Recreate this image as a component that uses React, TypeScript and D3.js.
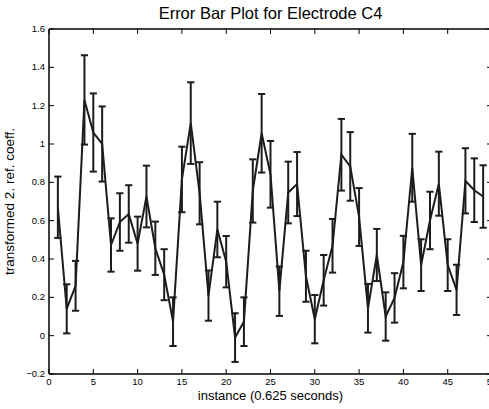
import React from "react";
import * as d3 from "d3";

const instances = [1,2,3,4,5,6,7,8,9,10,11,12,13,14,15,16,17,18,19,20,21,22,23,24,25,26,27,28,29,30,31,32,33,34,35,36,37,38,39,40,41,42,43,44,45,46,47,48,49];
const means = [0.67,0.14,0.26,1.23,1.06,1.0,0.473,0.593,0.635,0.48,0.726,0.456,0.318,0.073,0.815,1.109,0.743,0.209,0.554,0.386,-0.01,0.073,0.755,1.056,0.842,0.232,0.747,0.791,0.31,0.086,0.289,0.469,0.944,0.883,0.619,0.143,0.421,0.1,0.197,0.384,0.876,0.368,0.601,0.793,0.368,0.239,0.808,0.759,0.726];
const errors = [0.16,0.128,0.13,0.233,0.204,0.196,0.139,0.15,0.15,0.141,0.161,0.139,0.133,0.127,0.171,0.213,0.162,0.131,0.145,0.134,0.127,0.127,0.165,0.205,0.174,0.129,0.161,0.167,0.133,0.126,0.132,0.14,0.187,0.179,0.151,0.127,0.136,0.126,0.129,0.137,0.177,0.135,0.15,0.167,0.135,0.131,0.17,0.166,0.163];
const xTicks = [0,5,10,15,20,25,30,35,40,45,50];
const yTicks = [-0.2,0,0.2,0.4,0.6,0.8,1,1.2,1.4,1.6];
const title = "Error Bar Plot for Electrode C4";
const xLabel = "instance (0.625 seconds)";
const yLabel = "transformed 2. ref. coeff.";

export default function App() {
  const W = 489, H = 409;
  const L = 49, R = 492, T = 29, B = 374;
  const x = d3.scaleLinear().domain([0, 50]).range([L, R]);
  const y = d3.scaleLinear().domain([-0.2, 1.6]).range([B, T]);
  const pts = instances.map((xi, i) => [xi, means[i], errors[i]] as [number, number, number]);
  const line = d3.line<[number, number, number]>().x(d => x(d[0])).y(d => y(d[1]));
  const col = "#1c1c1c";
  const cap = 3.6;
  const font = "Liberation Sans, Arial, Helvetica, sans-serif";
  const fmtY = (v: number) => (v < 0 ? "\u22120.2" : v === 0 ? "0" : d3.format("~g")(Number(v.toFixed(1))));
  return (
    <svg width={W} height={H} style={{ position: "absolute", left: 0, top: 0, background: "#fff" }} fontFamily={font}>
      <rect x={0} y={0} width={W} height={H} fill="#fff" />
      <g stroke={col} strokeWidth={2} fill="none">
        {pts.map((d, i) => (
          <g key={i}>
            <line x1={x(d[0])} x2={x(d[0])} y1={y(d[1] - d[2])} y2={y(d[1] + d[2])} />
            <line x1={x(d[0]) - cap} x2={x(d[0]) + cap} y1={y(d[1] + d[2])} y2={y(d[1] + d[2])} />
            <line x1={x(d[0]) - cap} x2={x(d[0]) + cap} y1={y(d[1] - d[2])} y2={y(d[1] - d[2])} />
          </g>
        ))}
      </g>
      <path d={line(pts) || ""} stroke={col} strokeWidth={2} fill="none" strokeLinejoin="miter" />
      <g stroke="#000" fill="none">
        <line x1={L} x2={L} y1={T} y2={B} strokeWidth={1.5} />
        <line x1={L} x2={R} y1={B} y2={B} strokeWidth={1.5} />
        <line x1={L} x2={R} y1={T} y2={T} strokeWidth={1.5} />
        <line x1={R} x2={R} y1={T} y2={B} strokeWidth={1.5} />
        {xTicks.map(t => (
          <g key={"xt" + t}>
            <line x1={x(t)} x2={x(t)} y1={B} y2={B - 5} strokeWidth={1} />
            <line x1={x(t)} x2={x(t)} y1={T} y2={T + 5} strokeWidth={1} />
          </g>
        ))}
        {yTicks.map(t => (
          <g key={"yt" + t}>
            <line x1={L} x2={L + 5} y1={y(t)} y2={y(t)} strokeWidth={1} />
            <line x1={R} x2={R - 5} y1={y(t)} y2={y(t)} strokeWidth={1} />
          </g>
        ))}
      </g>
      <g fontSize={9.5} fill="#000">
        {xTicks.map(t => (
          <text key={"xl" + t} x={x(t)} y={B + 10.5} textAnchor="middle">{t}</text>
        ))}
        {yTicks.map(t => (
          <text key={"yl" + t} x={L - 4} y={y(t) + 3} textAnchor="end">{fmtY(t)}</text>
        ))}
      </g>
      <text x={(L + R) / 2} y={19} textAnchor="middle" fontSize={16.5} fill="#000">{title}</text>
      <text x={(L + R) / 2} y={399.5} textAnchor="middle" fontSize={13} fill="#000">{xLabel}</text>
      <text transform={`translate(14, ${(T + B) / 2}) rotate(-90)`} textAnchor="middle" fontSize={13.5} fill="#000">{yLabel}</text>
    </svg>
  );
}
